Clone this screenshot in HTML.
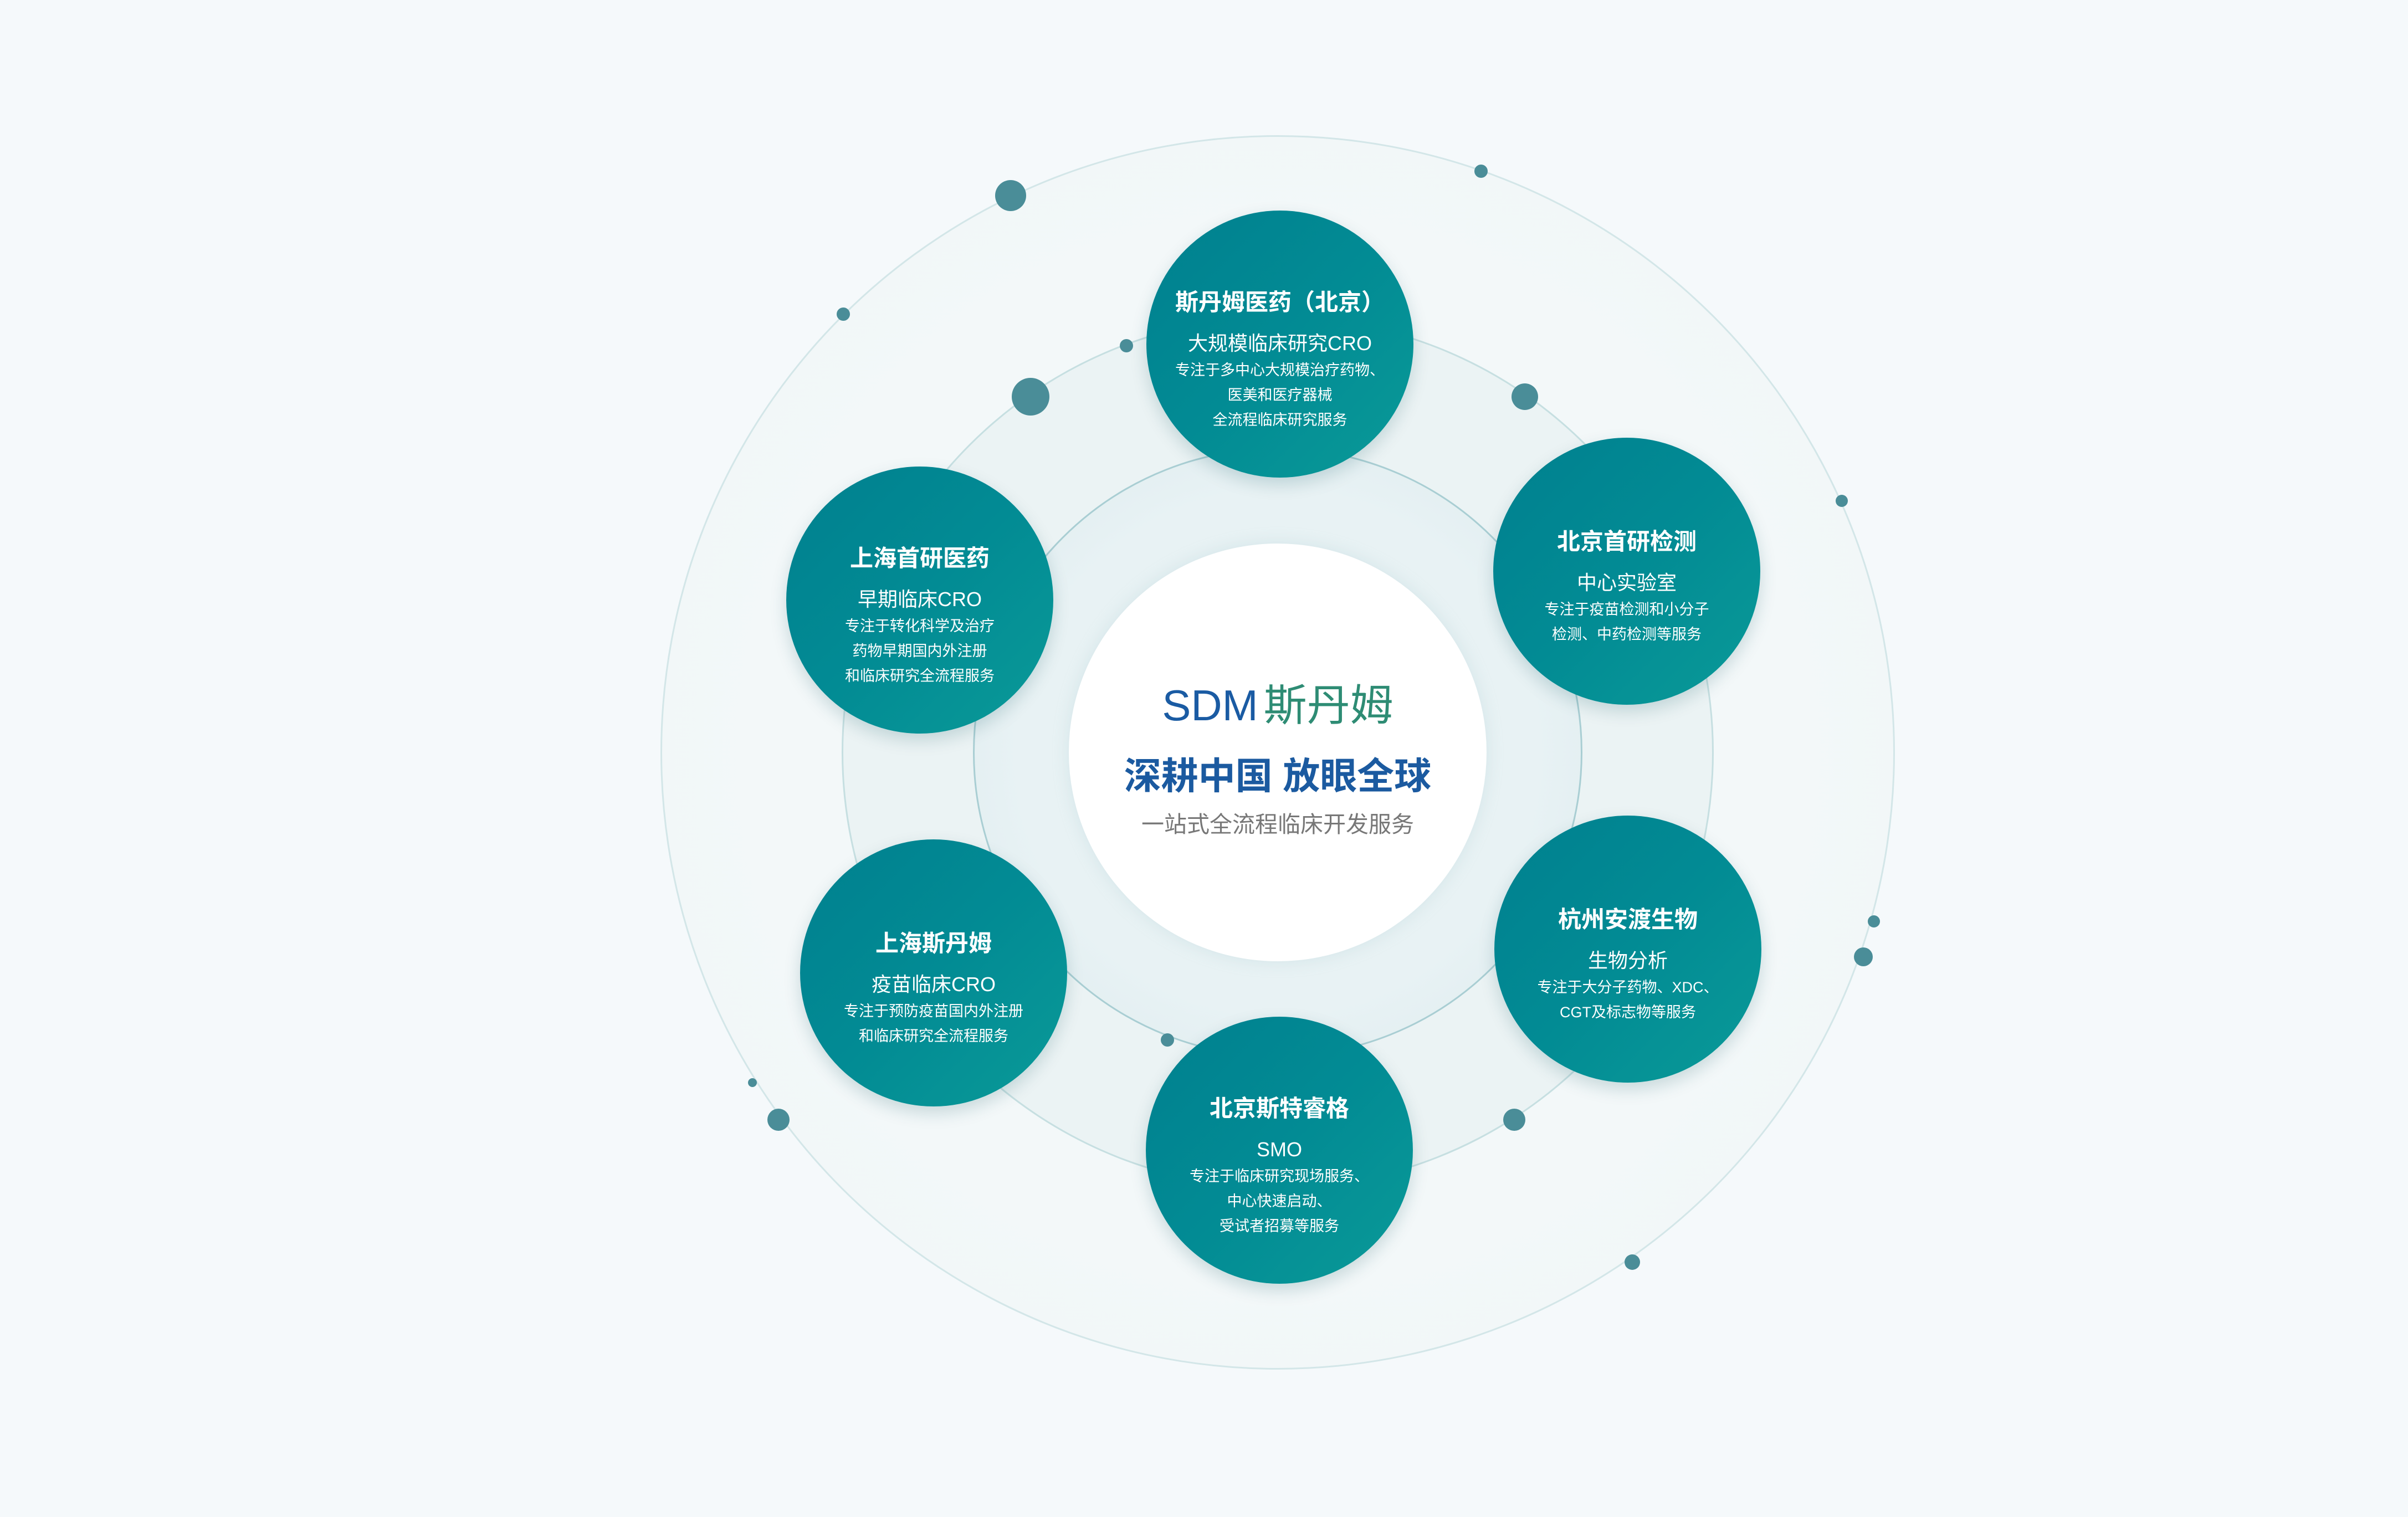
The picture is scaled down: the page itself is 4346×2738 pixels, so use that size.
<!DOCTYPE html>
<html><head><meta charset="utf-8">
<style>
html,body{margin:0;padding:0}
body{width:4346px;height:2738px;background:#f5f9fb;position:relative;overflow:hidden;font-family:"Liberation Sans","Noto Sans CJK SC",sans-serif}
.c{position:absolute;border-radius:50%;box-sizing:border-box}
.node{position:absolute;width:482px;height:482px;box-sizing:border-box;padding-top:56px;border-radius:50%;background:linear-gradient(135deg,#00808f 0%,#028b94 50%,#0a9a98 100%);box-shadow:0 12px 30px rgba(0,80,90,0.18);color:#fff;display:flex;flex-direction:column;align-items:center;justify-content:center;text-align:center}
.node .t{font-size:42px;font-weight:bold;line-height:56px;margin-bottom:22px}
.node .s{font-size:36px;line-height:48px;margin-bottom:2px}
.node .d{font-size:27px;line-height:45px;white-space:nowrap}
.dot{position:absolute;border-radius:50%;background:#4a8d98}
</style></head><body>
<div class="c" style="left:1192px;top:244px;width:2228px;height:2228px;background:radial-gradient(circle,#f3f8f9 60%,#eef5f6 100%);border:3px solid #d3e6e8"></div>
<div class="c" style="left:1519px;top:571px;width:1574px;height:1574px;background:#ebf3f4;border:3px solid #c6dfe1"></div>
<div class="c" style="left:1756px;top:808px;width:1100px;height:1100px;background:radial-gradient(circle,#e8f2f4 60%,#dbeaee 100%);border:3px solid #a9ced3"></div>
<div class="c" style="left:1929px;top:981px;width:754px;height:754px;background:#fff;box-shadow:0 0 30px rgba(150,190,200,0.25)"></div>

<div style="position:absolute;left:1906px;top:1228px;width:800px;text-align:center;font-size:78px;line-height:90px;white-space:nowrap"><span style="color:#1a5ba3">SDM</span><span style="color:#2e8c74;margin-left:10px">斯丹姆</span></div>
<div style="position:absolute;left:1906px;top:1362px;width:800px;text-align:center;font-size:67px;line-height:80px;font-weight:bold;color:#1b5aa0;white-space:nowrap">深耕中国 放眼全球</div>
<div style="position:absolute;left:1906px;top:1463px;width:800px;text-align:center;font-size:41px;line-height:50px;color:#777;white-space:nowrap">一站式全流程临床开发服务</div>

<div class="node" style="left:2069px;top:380px"><div class="t">斯丹姆医药（北京）</div><div class="s">大规模临床研究CRO</div><div class="d">专注于多中心大规模治疗药物、</div><div class="d">医美和医疗器械</div><div class="d">全流程临床研究服务</div></div>
<div class="node" style="left:1419px;top:842px"><div class="t">上海首研医药</div><div class="s">早期临床CRO</div><div class="d">专注于转化科学及治疗</div><div class="d">药物早期国内外注册</div><div class="d">和临床研究全流程服务</div></div>
<div class="node" style="left:2695px;top:790px"><div class="t">北京首研检测</div><div class="s">中心实验室</div><div class="d">专注于疫苗检测和小分子</div><div class="d">检测、中药检测等服务</div></div>
<div class="node" style="left:2697px;top:1472px"><div class="t">杭州安渡生物</div><div class="s">生物分析</div><div class="d">专注于大分子药物、XDC、</div><div class="d">CGT及标志物等服务</div></div>
<div class="node" style="left:1444px;top:1515px"><div class="t">上海斯丹姆</div><div class="s">疫苗临床CRO</div><div class="d">专注于预防疫苗国内外注册</div><div class="d">和临床研究全流程服务</div></div>
<div class="node" style="left:2068px;top:1835px"><div class="t">北京斯特睿格</div><div class="s">SMO</div><div class="d">专注于临床研究现场服务、</div><div class="d">中心快速启动、</div><div class="d">受试者招募等服务</div></div>

<div class="dot" style="left:1796px;top:325px;width:56px;height:56px"></div>
<div class="dot" style="left:2661px;top:297px;width:24px;height:24px"></div>
<div class="dot" style="left:1510px;top:555px;width:24px;height:24px"></div>
<div class="dot" style="left:2021px;top:612px;width:24px;height:24px"></div>
<div class="dot" style="left:1826px;top:682px;width:68px;height:68px"></div>
<div class="dot" style="left:2728px;top:692px;width:48px;height:48px"></div>
<div class="dot" style="left:3313px;top:893px;width:22px;height:22px"></div>
<div class="dot" style="left:3371px;top:1652px;width:22px;height:22px"></div>
<div class="dot" style="left:3346px;top:1710px;width:34px;height:34px"></div>
<div class="dot" style="left:2713px;top:2001px;width:40px;height:40px"></div>
<div class="dot" style="left:2932px;top:2264px;width:28px;height:28px"></div>
<div class="dot" style="left:2095px;top:1865px;width:24px;height:24px"></div>
<div class="dot" style="left:1385px;top:2001px;width:40px;height:40px"></div>
<div class="dot" style="left:1350px;top:1946px;width:16px;height:16px"></div>
</body></html>
